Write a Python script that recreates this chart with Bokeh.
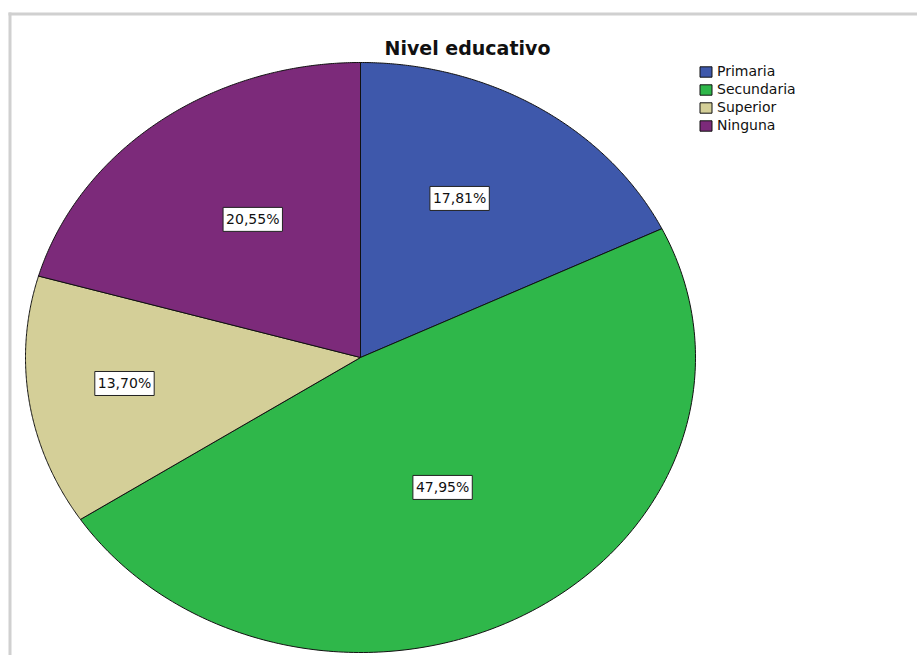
import numpy as np
from bokeh.plotting import figure
from bokeh.models import Range1d, Legend, LegendItem, Label, BoxAnnotation, ColumnDataSource
from bokeh.core.properties import value
from bokeh.embed import file_html
from bokeh.resources import INLINE

# ---- data ----
categories = ["Primaria", "Secundaria", "Superior", "Ninguna"]
percentages = [17.81, 47.95, 13.70, 20.55]
colors = ["#3e58ab", "#2fb74a", "#d4cf98", "#7c2a7a"]
title_text = "Nivel educativo"

# ---- layout constants ----
W, H = 917, 655
cx, cy = 360, 357          # pie centre (screen px)
rx, ry = 335, 295          # ellipse radii
label_r = [0.615, 0.504, 0.71, 0.568]    # radial fraction of each label
label_dtheta = [-3.3, 0.5, 1.5, 2.5]     # angular nudge of each label (deg)
FONT = "DejaVu Sans"

p = figure(width=W, height=H, output_backend="svg", toolbar_location=None,
           x_range=Range1d(0, W), y_range=Range1d(H, 0),
           min_border=0, outline_line_color=None)
p.axis.visible = False
p.grid.visible = False
p.background_fill_color = "white"
p.border_fill_color = "white"

# grey frame (top + left)
p.add_layout(BoxAnnotation(left=8, right=11, top=12, fill_color="#d0d0d0", fill_alpha=1, line_color=None))
p.add_layout(BoxAnnotation(left=8, top=12, bottom=15, fill_color="#d0d0d0", fill_alpha=1, line_color=None))

fr = np.array(percentages) / sum(percentages)
ends = np.cumsum(fr) * 2 * np.pi
starts = ends - fr * 2 * np.pi

items = []
lx, ly, ltxt = [], [], []
for i, cat in enumerate(categories):
    th = np.linspace(starts[i], ends[i], 200)
    xs = np.concatenate([[cx], cx + rx * np.sin(th), [cx]])
    ys = np.concatenate([[cy], cy - ry * np.cos(th), [cy]])
    r = p.patch(xs, ys, fill_color=colors[i], line_color="#111111", line_width=1)
    items.append(LegendItem(label=cat, renderers=[r]))
    mid = (starts[i] + ends[i]) / 2 + np.radians(label_dtheta[i])
    lx.append(cx + rx * label_r[i] * np.sin(mid))
    ly.append(cy - ry * label_r[i] * np.cos(mid))
    ltxt.append(f"{percentages[i]:.2f}".replace(".", ",") + "%")

src = ColumnDataSource(dict(x=lx, y=ly, t=ltxt))
p.text(x="x", y="y", text="t", source=src, text_align="center", text_baseline="middle",
       text_font=value(FONT), text_font_size="14px", text_color="#111111",
       background_fill_color="white", border_line_color="#222222", border_line_width=1,
       padding=dict(left=3, right=3, top=4, bottom=4))

p.add_layout(Label(x=467, y=47, text=title_text, text_align="center", text_baseline="middle",
                   text_font=FONT, text_font_size="19px", text_font_style="bold",
                   text_color="#111111"))

legend = Legend(items=items, location=(698, 522), glyph_width=15, glyph_height=13,
                label_height=13, spacing=2, padding=0, margin=0, border_line_color=None,
                background_fill_alpha=0, label_text_font=FONT, label_text_font_size="14px",
                label_standoff=4, label_text_color="#111111")
p.add_layout(legend)

open("out.html", "w").write(file_html(p, INLINE))
